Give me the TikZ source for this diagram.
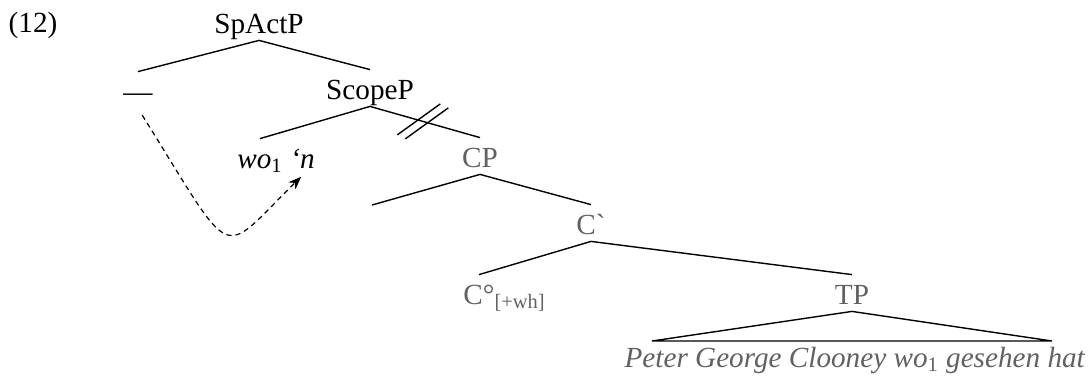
\documentclass[tikz,border=0pt]{standalone}
\usepackage{fontspec}
\setmainfont{Liberation Serif}
\usepackage{xcolor}
\usetikzlibrary{arrows, arrows.meta, positioning, calc}
\definecolor{treegray}{gray}{0.38}
\tikzstyle{cat} = [anchor=base, inner sep=3.5pt, text height=11pt, text depth=0pt, font=\fontsize{14.6pt}{17pt}\selectfont]
\tikzstyle{graycat} = [cat, text=treegray]
\tikzstyle{branch} = [line width=0.7pt]
\tikzstyle{movearrow} = [line width=0.6pt, dash pattern=on 2.6pt off 2pt, ->, >={Stealth[length=6.5pt, width=5pt]}]

\begin{document}
\begin{tikzpicture}[x=0.5pt, y=-0.5pt]
      \useasboundingbox (0,0) rectangle (1090,376);

      % Example number
      \node[cat] (exno) at (33,32) {(12)};

      % Category labels
      \node[cat] (spactp) at (259,33) {SpActP};
      \node[cat] (gap) at (138,101) {---};
      \node[cat] (scopep) at (370,99) {ScopeP};
      \node[cat] (wo) at (260,168) {\textit{wo\textsubscript{\upshape 1}}};
      \node[cat, inner xsep=0pt, right=0pt of wo] (clitic) {\textit{‘n}};
      \node[graycat] (cp) at (480,167) {CP};
      \coordinate (cpspec) at (372,205);
      \node[graycat] (cbar) at (591,234) {C\textasciigrave};
      \node[graycat] (chead) at (479,304) {C°\rlap{\textsubscript{[+wh]}}};
      \node[graycat] (tp) at (852,304) {TP};
      \node[graycat] (tptext) at (855,367) {\textit{Peter George Clooney wo\textsubscript{\upshape 1} gesehen hat}};

      % Branches
      \draw[branch] (gap.north) -- (spactp.south) -- (scopep.north);
      \draw[branch] (wo.north) -- (scopep.south) -- (cp.north);
      \draw[branch] (cpspec) -- (cp.south) -- (cbar.north);
      \draw[branch] (chead.north) -- (cbar.south) -- (tp.north);

      % Triangle over TP
      \coordinate (tpleft) at (652,341);
      \coordinate (tpright) at (1052,341);
      \draw[branch] (tp.south) -- (tpleft) -- (tpright) -- cycle;

      % Cut on the ScopeP-CP branch
      \coordinate (cut) at ($(scopep.south)!0.48!(cp.north)$);
      \draw[branch] ([shift={(-25.5,13.5)}]cut) -- ([shift={(17.5,-17.5)}]cut);
      \draw[branch] ([shift={(-17.5,17.5)}]cut) -- ([shift={(25.5,-13.5)}]cut);

      % Movement
      \draw[movearrow, shorten <=4pt, shorten >=1pt] (gap.south) .. controls (237,267) and (218,258) .. (clitic.south);
    \end{tikzpicture}
\end{document}
